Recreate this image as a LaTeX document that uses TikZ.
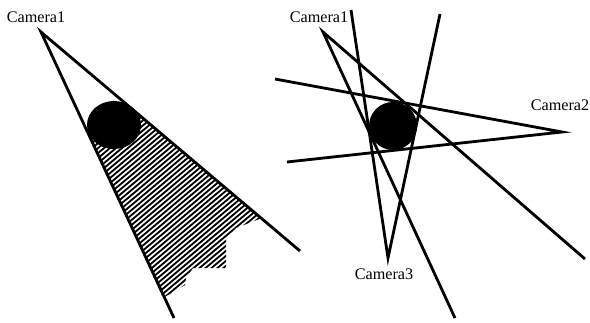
\documentclass[tikz,border=0pt]{standalone}
\usepackage{fontspec}
\setmainfont{Liberation Serif}
\tikzset{
  ray/.style={line width=2pt},
  hatch/.style={line width=1.3pt},
  camlabel/.style={font=\fontsize{11.5}{13}\selectfont, inner sep=0pt},
  ball/.style={fill=black}
}
\begin{document}
\begin{tikzpicture}[x=0.025cm, y=-0.025cm]
  \useasboundingbox (0,0) rectangle (590,322);
  % left: one camera and the shadow behind the object
  \coordinate (lcam) at (41,32);
  \coordinate (lcamA) at (174,318);
  \coordinate (lcamB) at (300,251);
  \node[camlabel] (lcamlbl) at (36,17) {Camera1};
  \begin{scope}
    \clip (89,135) -- (140,115) -- (262,218) -- (236,228) -- (226,238) -- (226,268)
      -- (193,268) -- (186,278) -- (185,285) -- (163,298) -- cycle;
    \foreach \k in {0,...,70}
      \draw[hatch] (60,100+5*\k) -- ++(260,-218);
  \end{scope}
  \fill[ball] (114,125) ellipse [x radius=27, y radius=24];
  \draw[ray] (lcamA) -- (lcam) -- (lcamB);
  % right: three cameras round the object
  \coordinate (camA) at (323,32);
  \coordinate (camB) at (562,132);
  \coordinate (camC) at (388,258);
  \coordinate (camA1) at (455,318);
  \coordinate (camA2) at (585,259);
  \coordinate (camB1) at (275,79);
  \coordinate (camB2) at (287,162);
  \coordinate (camC1) at (351,10);
  \coordinate (camC2) at (440,14);
  \node[camlabel] (camAlbl) at (319,17) {Camera1};
  \node[camlabel] (camBlbl) at (560,105) {Camera2};
  \node[camlabel] (camClbl) at (384,274) {Camera3};
  \fill[ball] (393,126) ellipse [x radius=24, y radius=24];
  \draw[ray] (camA1) -- (camA) -- (camA2);
  \draw[ray] (camB1) -- (camB) -- (camB2);
  \draw[ray] (camC1) -- (camC) -- (camC2);
\end{tikzpicture}
\end{document}
